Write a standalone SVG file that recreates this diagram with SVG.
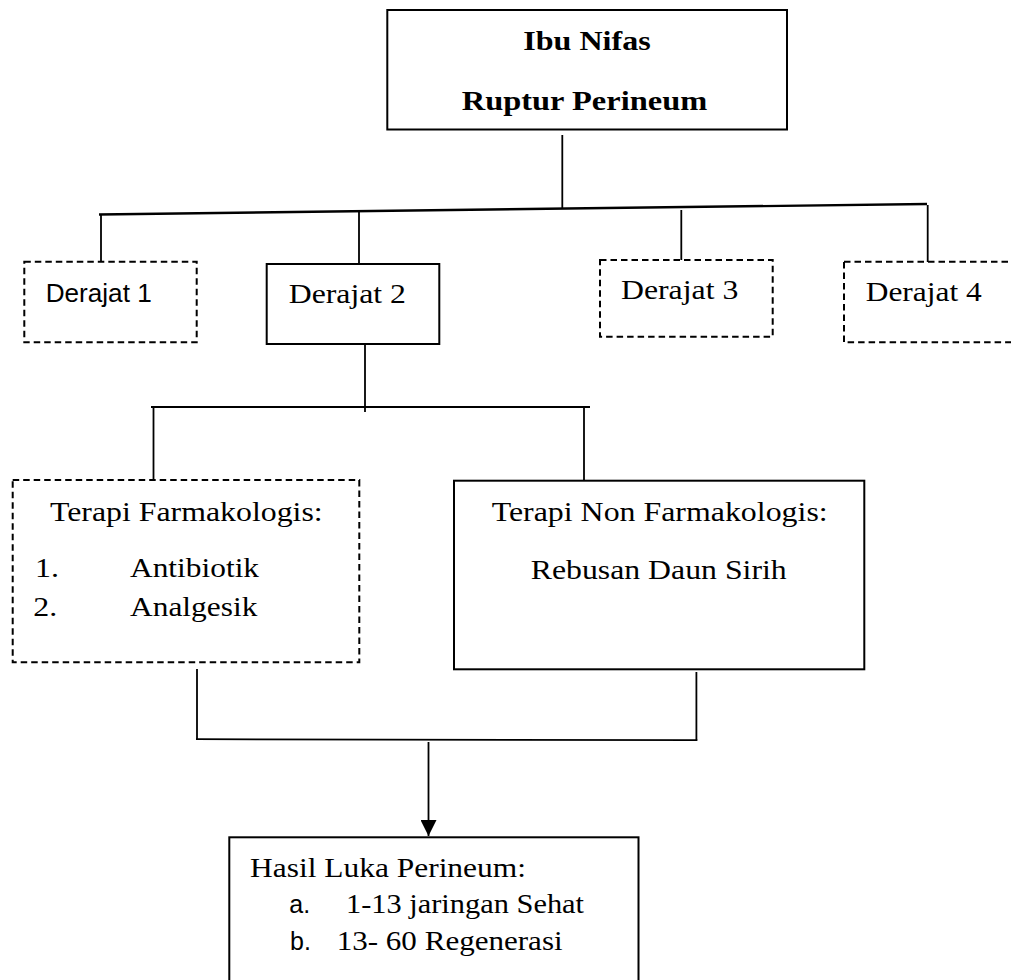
<svg xmlns="http://www.w3.org/2000/svg" width="1011" height="980" viewBox="0 0 1011 980">
<style>
.bg{fill:#ffffff}
.box{fill:none;stroke:#000;stroke-width:2}
.dash{fill:none;stroke:#000;stroke-width:2;stroke-dasharray:6.5 4}
.ln{fill:none;stroke:#000;stroke-width:1.8}
.t{font-family:"Liberation Serif","Times New Roman",serif;font-size:28px;fill:#000}
.tb{font-family:"Liberation Serif","Times New Roman",serif;font-size:28px;font-weight:bold;fill:#000}
.s{font-family:"Liberation Sans",Arial,sans-serif;font-size:25px;fill:#000}
</style>
<defs>
<marker id="arr" viewBox="0 0 16 16" refX="16" refY="8" markerWidth="16" markerHeight="16" markerUnits="userSpaceOnUse" orient="auto">
<path d="M0,0 L16,8 L0,16 Z" fill="#000"/>
</marker>
</defs>
<rect class="bg" x="0" y="0" width="1011" height="980"/>

<g id="connectors">
<line class="ln" x1="562.3" y1="135" x2="562.3" y2="208"/>
<line class="ln" x1="99" y1="214.5" x2="927" y2="204" style="stroke-width:2.4"/>
<line class="ln" x1="101" y1="214" x2="101" y2="262"/>
<line class="ln" x1="359" y1="211" x2="359" y2="264"/>
<line class="ln" x1="681.3" y1="210" x2="681.3" y2="260"/>
<line class="ln" x1="927.7" y1="205" x2="927.7" y2="262"/>
<line class="ln" x1="365" y1="344" x2="365" y2="412"/>
<line class="ln" x1="151" y1="407" x2="590" y2="407"/>
<line class="ln" x1="153.5" y1="407" x2="153.5" y2="479"/>
<line class="ln" x1="584" y1="407" x2="584" y2="480"/>
<line class="ln" x1="197" y1="669" x2="197" y2="739.5"/>
<line class="ln" x1="696.4" y1="672" x2="696.4" y2="740.5"/>
<line class="ln" x1="196" y1="739.2" x2="697.3" y2="740.2"/>
<line class="ln" x1="428.5" y1="742" x2="428.5" y2="836" marker-end="url(#arr)"/>
</g>

<g id="node-ibu-nifas">
<rect class="box" x="387.3" y="10" width="399.7" height="119.5"/>
<g transform="scale(1.14,1)">
<text class="tb" x="459.04" y="50" textLength="111.75" lengthAdjust="spacingAndGlyphs">Ibu Nifas</text>
<text class="tb" x="405" y="110" textLength="215.4" lengthAdjust="spacingAndGlyphs">Ruptur Perineum</text>
</g>
</g>

<g id="node-derajat-1">
<rect class="dash" x="24.3" y="261.7" width="172.4" height="80.6"/>
<text class="s" x="45.7" y="301.7" textLength="106" lengthAdjust="spacingAndGlyphs">Derajat 1</text>
</g>

<g id="node-derajat-2">
<rect class="box" x="266.7" y="264" width="172.6" height="80"/>
<g transform="scale(1.14,1)">
<text class="t" x="253.25" y="302.7" textLength="102.9" lengthAdjust="spacingAndGlyphs">Derajat 2</text>
</g>
</g>

<g id="node-derajat-3">
<rect class="dash" x="600" y="260" width="172.7" height="76.7"/>
<g transform="scale(1.14,1)">
<text class="t" x="544.74" y="299" textLength="102.9" lengthAdjust="spacingAndGlyphs">Derajat 3</text>
</g>
</g>

<g id="node-derajat-4">
<rect class="dash" x="844" y="261.7" width="180" height="80.6"/>
<g transform="scale(1.14,1)">
<text class="t" x="759.39" y="301" textLength="101.75" lengthAdjust="spacingAndGlyphs">Derajat 4</text>
</g>
</g>

<g id="node-terapi-farmakologis">
<rect class="dash" x="12.7" y="480" width="346.6" height="182.3"/>
<g transform="scale(1.14,1)">
<text class="t" x="43.86" y="520.7" textLength="239.2" lengthAdjust="spacingAndGlyphs">Terapi Farmakologis:</text>
<text class="t" x="30.7" y="576.7">1.</text>
<text class="t" x="114.04" y="576.7" textLength="113.2" lengthAdjust="spacingAndGlyphs">Antibiotik</text>
<text class="t" x="29.21" y="615.7">2.</text>
<text class="t" x="114.04" y="615.7" textLength="111.7" lengthAdjust="spacingAndGlyphs">Analgesik</text>
</g>
</g>

<g id="node-terapi-non-farmakologis">
<rect class="box" x="454" y="480.7" width="410.3" height="188.6"/>
<g transform="scale(1.14,1)">
<text class="t" x="431.32" y="520.7" textLength="294.7" lengthAdjust="spacingAndGlyphs">Terapi Non Farmakologis:</text>
<text class="t" x="465.53" y="579" textLength="224.6" lengthAdjust="spacingAndGlyphs">Rebusan Daun Sirih</text>
</g>
</g>

<g id="node-hasil">
<rect class="box" x="229.3" y="837.3" width="409.2" height="160"/>
<text class="s" x="289.3" y="913.3">a.</text>
<text class="s" x="290" y="950">b.</text>
<g transform="scale(1.14,1)">
<text class="t" x="219.3" y="876.7" textLength="242.1" lengthAdjust="spacingAndGlyphs">Hasil Luka Perineum:</text>
<text class="t" x="303.51" y="913.3" textLength="208.8" lengthAdjust="spacingAndGlyphs">1-13 jaringan Sehat</text>
<text class="t" x="295.35" y="950" textLength="198.2" lengthAdjust="spacingAndGlyphs">13- 60 Regenerasi</text>
</g>
</g>
</svg>
